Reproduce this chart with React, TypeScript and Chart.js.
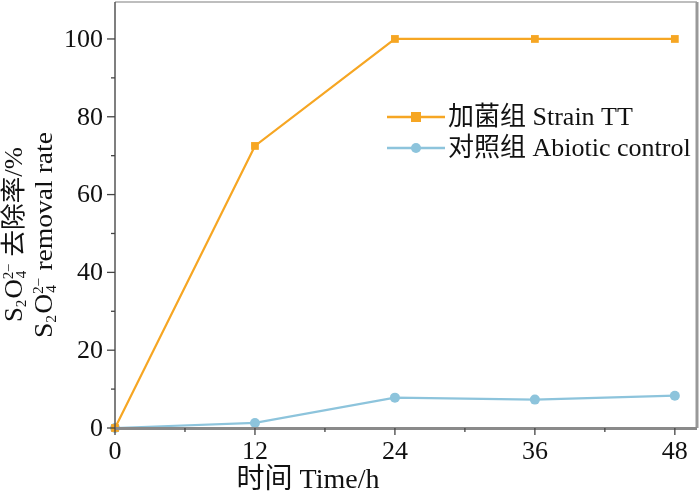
import React, { useEffect, useRef } from "react";
import { Chart, registerables } from "chart.js";

Chart.register(...registerables);

const hours = [0, 12, 24, 36, 48];
const strainTT = [0, 72.5, 100, 100, 100];
const abiotic = [0, 1.3, 7.8, 7.3, 8.3];
const xTicks = [0, 12, 24, 36, 48];
const yTicks = [0, 20, 40, 60, 80, 100];
const xMinor = [6, 18, 30, 42];
const yMinor = [10, 30, 50, 70, 90];
const legendLabels = ["加菌组 Strain TT", "对照组 Abiotic control"];
const xTitle = "时间 Time/h";
const yTitleRest = ["去除率/%", "removal rate"];

const ORANGE = "#F6A623";
const BLUE = "#8DC4DC";
const FONT = "'Liberation Serif', 'Noto Sans CJK SC', serif";

const overlay = {
  id: "overlay",
  afterDraw(chart: any) {
    const ctx = chart.ctx as CanvasRenderingContext2D;
    const { left, right, top, bottom } = chart.chartArea;
    const xs = chart.scales.x;
    const ys = chart.scales.y;
    ctx.save();
    // frame
    ctx.strokeStyle = "#a8a8a8";
    ctx.lineWidth = 1.5;
    ctx.beginPath();
    ctx.moveTo(left, top);
    ctx.lineTo(right, top);
    ctx.stroke();
    ctx.lineWidth = 3;
    ctx.strokeStyle = "#999";
    ctx.beginPath();
    ctx.moveTo(right, top);
    ctx.lineTo(right, bottom);
    ctx.stroke();
    // bottom axis
    ctx.strokeStyle = "#8a8a8a";
    ctx.lineWidth = 3;
    ctx.beginPath();
    ctx.moveTo(left, bottom + 0.5);
    ctx.lineTo(right, bottom + 0.5);
    ctx.stroke();
    // left axis
    ctx.strokeStyle = "#555";
    ctx.lineWidth = 1.5;
    ctx.beginPath();
    ctx.moveTo(left, top);
    ctx.lineTo(left, bottom);
    ctx.stroke();
    // ticks
    ctx.strokeStyle = "#444";
    ctx.lineWidth = 1.3;
    for (const v of yTicks) {
      const y = ys.getPixelForValue(v);
      ctx.beginPath();
      ctx.moveTo(left - 8, y);
      ctx.lineTo(left, y);
      ctx.stroke();
    }
    for (const v of yMinor) {
      const y = ys.getPixelForValue(v);
      ctx.beginPath();
      ctx.moveTo(left - 4, y);
      ctx.lineTo(left, y);
      ctx.stroke();
    }
    for (const v of xTicks) {
      const x = xs.getPixelForValue(v);
      ctx.beginPath();
      ctx.moveTo(x, bottom);
      ctx.lineTo(x, bottom + 7);
      ctx.stroke();
    }
    for (const v of xMinor) {
      const x = xs.getPixelForValue(v);
      ctx.beginPath();
      ctx.moveTo(x, bottom);
      ctx.lineTo(x, bottom + 4);
      ctx.stroke();
    }
    // tick labels
    ctx.fillStyle = "#111";
    ctx.font = `26px ${FONT}`;
    ctx.textAlign = "right";
    ctx.textBaseline = "middle";
    for (const v of yTicks) {
      ctx.fillText(String(v), left - 12, ys.getPixelForValue(v) + 1);
    }
    ctx.textAlign = "center";
    for (const v of xTicks) {
      ctx.fillText(String(v), xs.getPixelForValue(v), bottom + 24);
    }
    // x title
    ctx.font = `28px ${FONT}`;
    ctx.fillText(xTitle, 308, 481);

    // y title (rotated, stretched along reading direction)
    const drawYTitle = (bx: number, by: number, rest: string, len: number) => {
      const big = `25px ${FONT}`;
      const small = `14px ${FONT}`;
      ctx.save();
      ctx.font = big;
      const wS = ctx.measureText("S").width;
      const wO = ctx.measureText("O").width;
      const wRest = ctx.measureText(" " + rest).width;
      ctx.font = small;
      const w2 = ctx.measureText("2").width;
      const wStack = ctx.measureText("2−").width;
      const total = wS + w2 + 1 + wO + wStack + wRest;
      ctx.translate(bx, by);
      ctx.rotate(-Math.PI / 2);
      ctx.scale(len / total, 1);
      ctx.textAlign = "left";
      ctx.textBaseline = "alphabetic";
      let x = 0;
      ctx.font = big;
      ctx.fillText("S", x, 0);
      x += wS;
      ctx.font = small;
      ctx.fillText("2", x, 4);
      x += w2 + 1;
      ctx.font = big;
      ctx.fillText("O", x, 0);
      x += wO;
      ctx.font = small;
      ctx.fillText("2−", x, -9);
      ctx.fillText("4", x + 1, 4);
      x += wStack;
      ctx.font = big;
      ctx.fillText(" " + rest, x, 0);
      ctx.restore();
    };
    drawYTitle(22, 322, yTitleRest[0], 175);
    drawYTitle(52, 338, yTitleRest[1], 206);

    // legend
    const items = [
      { label: legendLabels[0], color: ORANGE, y: 117, shape: "square" },
      { label: legendLabels[1], color: BLUE, y: 148, shape: "circle" },
    ];
    for (const it of items) {
      ctx.strokeStyle = it.color;
      ctx.lineWidth = 2.5;
      ctx.beginPath();
      ctx.moveTo(387, it.y);
      ctx.lineTo(445, it.y);
      ctx.stroke();
      ctx.fillStyle = it.color;
      if (it.shape === "square") {
        ctx.fillRect(411, it.y - 5, 10, 10);
      } else {
        ctx.beginPath();
        ctx.arc(416, it.y, 5, 0, Math.PI * 2);
        ctx.fill();
      }
      ctx.fillStyle = "#111";
      ctx.font = `26px ${FONT}`;
      ctx.textAlign = "left";
      ctx.textBaseline = "middle";
      ctx.fillText(it.label, 448, it.y + 1);
    }
    ctx.restore();
  },
};

export default function App() {
  const ref = useRef<HTMLCanvasElement>(null);
  useEffect(() => {
    document.body.style.margin = "0";
    const chart = new Chart(ref.current!, {
      type: "line",
      data: {
        datasets: [
          {
            label: legendLabels[0],
            data: hours.map((h, i) => ({ x: h, y: strainTT[i] })),
            borderColor: ORANGE,
            backgroundColor: ORANGE,
            borderWidth: 2.2,
            pointStyle: "rect",
            pointRadius: 5.5,
            pointBorderWidth: 0,
            clip: false as any,
          },
          {
            label: legendLabels[1],
            data: hours.map((h, i) => ({ x: h, y: abiotic[i] })),
            borderColor: BLUE,
            backgroundColor: BLUE,
            borderWidth: 2.2,
            pointStyle: "circle",
            pointRadius: 5,
            pointBorderWidth: 0,
            clip: false as any,
          },
        ],
      },
      options: {
        animation: false,
        responsive: false,
        layout: { autoPadding: false, padding: { left: 115, right: 3, top: 2, bottom: 66 } },
        plugins: { legend: { display: false }, tooltip: { enabled: false } },
        scales: {
          x: { type: "linear", min: 0, max: 49.9, display: false },
          y: { type: "linear", min: 0, max: 109.5, display: false },
        },
      },
      plugins: [overlay],
    });
    return () => chart.destroy();
  }, []);
  return (
    <div style={{ width: 700, height: 494, background: "#fff" }}>
      <canvas ref={ref} width={700} height={494} style={{ display: "block" }} />
    </div>
  );
}
